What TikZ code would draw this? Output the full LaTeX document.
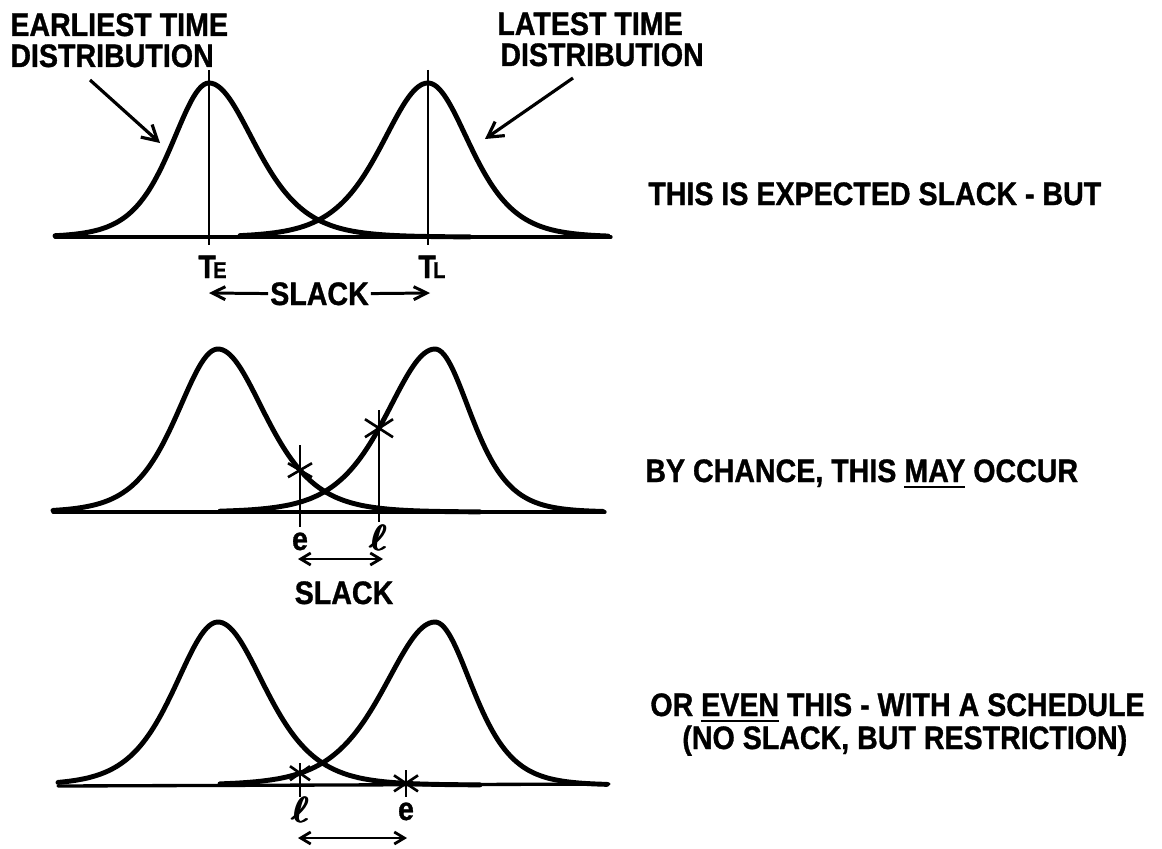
\documentclass[tikz,border=0pt]{standalone}
\usepackage{fontspec}
\setmainfont{Liberation Sans}[FakeStretch=0.88, BoldFeatures={FakeBold=1}]
\usepackage{bm}
\usetikzlibrary{arrows.meta}
\newcommand\myul[1]{\setbox0\hbox{#1}\rlap{\rule[-3.5pt]{\wd0}{1.4pt}}\box0\relax}
\newcommand\fatell{\rlap{$\bm{\ell}$}\kern0.45pt\rlap{$\bm{\ell}$}\kern0.45pt$\bm{\ell}$}
\begin{document}
\begin{tikzpicture}[x=0.02cm,y=-0.02cm,
  declare function={ssq(\vx,\vm,\vl,\vr)=4*exp(-2*abs(\vx-\vm)/ifthenelse(\vx<\vm,\vl,\vr))/(1+exp(-2*abs(\vx-\vm)/ifthenelse(\vx<\vm,\vl,\vr)))^2;},
  curve/.style={line width=2.8pt, line join=round, line cap=round},
  axisline/.style={line width=1.9pt, line cap=round},
  tick/.style={line width=1.5pt},
  lbl/.style={inner sep=0pt, text height=13pt, text depth=0pt, font=\fontsize{18.5}{20}\selectfont\bfseries},
  ellbl/.style={inner sep=0pt, font=\fontsize{20}{20}\selectfont},
  ptr/.style={line width=1.8pt, -{Straight Barb[length=3mm,width=3.4mm,line width=1.8pt]}},
  sarr/.style={line width=1.7pt, -{Straight Barb[length=2.6mm,width=2.6mm,line width=1.7pt]}},
  dbl/.style={line width=1.6pt, {Straight Barb[length=2mm,width=2.4mm,line width=1.6pt]}-{Straight Barb[length=2mm,width=2.4mm,line width=1.6pt]}},
  pics/xmark/.style n args={2}{code={\draw[tick] (-#1,-#2)--(#1,#2) (-#1,#2)--(#1,-#2);}}
]
\path[use as bounding box, fill=white] (0,0) rectangle (1162,848);

% ---------------- panel 1 ----------------
\coordinate (b1l) at (55,237);
\coordinate (b1r) at (611,237);
\draw[axisline] (b1l) -- (b1r);
\draw[curve] plot[domain=55:470,samples=160] (\x,{237-154*ssq(\x,209,50,62)});
\draw[curve] plot[domain=240:608,samples=160] (\x,{237-154*ssq(\x,428,62,56)});
\coordinate (teTop) at (209,70); \coordinate (teBot) at (209,245);
\coordinate (tlTop) at (428,70); \coordinate (tlBot) at (428,245);
\draw[tick] (teTop) -- (teBot);
\draw[tick] (tlTop) -- (tlBot);

\node[lbl, anchor=base west] (et1) at (10,36) {EARLIEST TIME};
\node[lbl, anchor=base west] (et2) at (10,67) {DISTRIBUTION};
\node[lbl, anchor=base west] (lt1) at (497,35) {LATEST TIME};
\node[lbl, anchor=base west] (lt2) at (500,66) {DISTRIBUTION};
\coordinate (epT) at (90,80);  \coordinate (epH) at (160,143);
\coordinate (lpT) at (573,78); \coordinate (lpH) at (485,139);
\draw[ptr] (epT) -- (epH);
\draw[ptr] (lpT) -- (lpH);

\node[lbl, anchor=base west] (te) at (198,278) {T\kern-1.5pt{\fontsize{13}{13}\selectfont E}};
\node[lbl, anchor=base west] (tl) at (418,278) {T\kern-1.5pt{\fontsize{13}{13}\selectfont L}};
\node[lbl, anchor=base, inner xsep=1pt] (sl1) at (319.5,305) {SLACK};
\coordinate (sl1L) at (209,293); \coordinate (sl1R) at (430,293);
\draw[sarr] (sl1.west) -- (sl1L);
\draw[sarr] (sl1.east) -- (sl1R);

\node[lbl, anchor=base west] (t1) at (648,205) {THIS IS EXPECTED SLACK - BUT};

% ---------------- panel 2 ----------------
\coordinate (b2l) at (53,512);
\coordinate (b2r) at (605,512);
\draw[axisline] (b2l) -- (b2r);
\draw[curve] plot[domain=53:480,samples=160] (\x,{512-163*ssq(\x,218,55,63)});
\draw[curve] plot[domain=220:603,samples=160] (\x,{512-163*ssq(\x,435,65,48)});
\coordinate (s2e) at (300,{512-163*ssq(300,218,55,63)});
\coordinate (s2l) at (379,{512-163*ssq(379,435,65,48)});
\draw[tick] (300,445) -- (300,527);
\draw[tick] (379,410) -- (379,522);
\pic at (s2e) {xmark={12}{7}};
\pic at (s2l) {xmark={14}{9}};
\node[lbl, anchor=base] (e2) at (300,550) {e};
\node[ellbl, anchor=base] (l2) at (378,550) {\fatell};
\coordinate (a2l) at (298,559); \coordinate (a2r) at (383,559);
\draw[dbl] (a2l) -- (a2r);
\node[lbl, anchor=base] (sl2) at (344,604) {SLACK};

\node[lbl, anchor=base west] (t2) at (645,482) {BY CHANCE, THIS \myul{MAY} OCCUR};

% ---------------- panel 3 ----------------
\coordinate (b3l) at (58,786);
\coordinate (b3r) at (609,784);
\draw[axisline] (b3l) -- (b3r);
\draw[curve] plot[domain=58:480,samples=160] (\x,{785-163*ssq(\x,218,58,63)});
\draw[curve] plot[domain=220:607,samples=160] (\x,{785-163*ssq(\x,435,68,50)});
\coordinate (s3l) at (300,{785-163*ssq(300,435,68,50)});
\coordinate (s3e) at (406,{785-163*ssq(406,218,58,63)});
\draw[tick] (300,763) -- (300,797);
\draw[tick] (406,770) -- (406,797);
\pic at (s3l) {xmark={10}{7}};
\pic at (s3e) {xmark={12}{8}};
\node[ellbl, anchor=base] (l3) at (300,822) {\fatell};
\node[lbl, anchor=base] (e3) at (406,820) {e};
\coordinate (a3l) at (298,838); \coordinate (a3r) at (407,838);
\draw[dbl] (a3l) -- (a3r);

\node[lbl, anchor=base west] (t3a) at (650,716) {OR \myul{EVEN} THIS - WITH A SCHEDULE};
\node[lbl, anchor=base west] (t3b) at (682,749) {(NO SLACK, BUT RESTRICTION)};
\end{tikzpicture}
\end{document}
